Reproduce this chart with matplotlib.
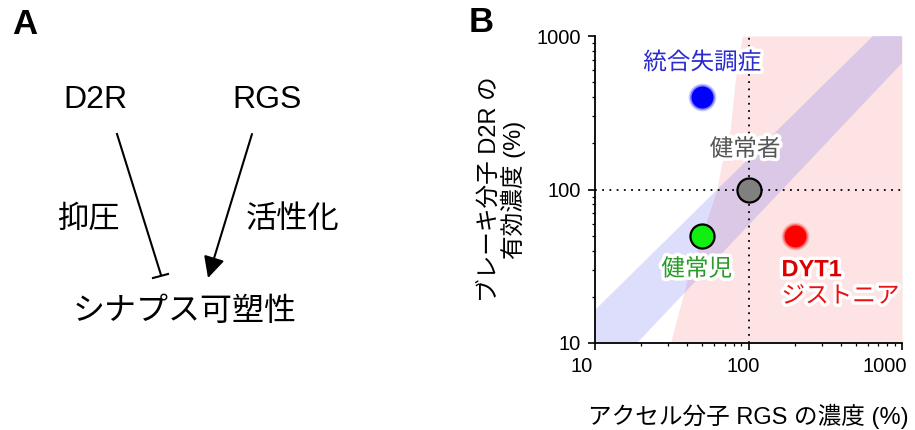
import numpy as np
import matplotlib.pyplot as plt
import matplotlib.patheffects as pe
import matplotlib.transforms as mtransforms
from matplotlib.patches import FancyArrowPatch

plt.rcParams['font.family'] = ['Liberation Sans', 'Noto Sans CJK JP']

# 各群の位置 (RGS %, D2R %)
groups = ['統合失調症', '健常者', '健常児', 'DYT1']
rgs = [50, 100, 50, 200]
d2r = [400, 100, 50, 50]
dot_colors = ['#0000ff', '#808080', '#11ee11', '#ff0000']
dot_edges = [None, 'black', 'black', None]

# ジストニア領域（ピンク）の左境界
pink_rgs = [91, 82, 76, 67, 62, 40, 31]
pink_d2r = [1000, 516, 244, 149, 99, 26, 10]

# 正常バランス帯の上端・下端
band_upper_rgs = [10, 647]
band_upper_d2r = [16.4, 1000]
band_lower_rgs = [18.8, 1000]
band_lower_d2r = [10, 667]

ticks = [10, 100, 1000]

fig = plt.figure(figsize=(9.15, 4.3), dpi=100)

# ---- A: 模式図 ----
axa = fig.add_axes([0, 0, 450 / 915, 1])
axa.set_xlim(0, 450)
axa.set_ylim(430, 0)
axa.axis('off')
axa.text(25, 25, 'A', fontsize=25, fontweight='bold', ha='center', va='center')
axa.text(95, 100, 'D2R', fontsize=23, ha='center', va='center')
axa.text(267, 100, 'RGS', fontsize=23, ha='center', va='center')
axa.text(88, 220, '抑圧', fontsize=22.5, ha='center', va='center')
axa.text(293, 220, '活性化', fontsize=22.5, ha='center', va='center')
axa.text(185, 312, 'シナプス可塑性', fontsize=23, ha='center', va='center')
axa.plot([117, 161], [134, 275], color='black', lw=1.5)
axa.plot([153, 168], [278, 274], color='black', lw=1.5)
axa.add_patch(FancyArrowPatch((252, 134), (208, 278), arrowstyle='-|>',
                              mutation_scale=32, color='black', lw=1.5,
                              shrinkA=0, shrinkB=0))

# ---- B: 2次元プロット ----
ax = fig.add_axes([595 / 915, 87 / 430, 307 / 915, 307 / 430])
ax.set_xscale('log')
ax.set_yscale('log')
ax.set_xlim(10, 1000)
ax.set_ylim(10, 1000)

ax.fill_betweenx(pink_d2r, pink_rgs, 1000, color='#fde3e3', lw=0, zorder=0)
band_x = [10, 10] + [band_upper_rgs[1], 1000] + [1000, band_lower_rgs[0]]
band_y = [10, band_upper_d2r[0]] + [1000, 1000] + [band_lower_d2r[1], 10]
ax.fill(band_x, band_y, color='#6666f2', alpha=0.22, lw=0, zorder=1)

ax.axvline(100, color='black', ls=(0, (1, 3)), lw=1.3, zorder=2)
ax.axhline(100, color='black', ls=(0, (1, 3)), lw=1.3, zorder=2)

for x, y, c, e in zip(rgs, d2r, dot_colors, dot_edges):
    if e is None:
        # ぼかした縁
        ax.scatter(x, y, s=400, color=c, alpha=0.2, lw=0, zorder=3)
        ax.scatter(x, y, s=320, color=c, alpha=0.4, lw=0, zorder=3)
        ax.scatter(x, y, s=250, color=c, lw=0, zorder=4)
    else:
        ax.scatter(x, y, s=300, color=c, edgecolors=e, linewidths=1.6, zorder=4)

halo = [pe.withStroke(linewidth=5, foreground='white')]
ax.text(50, 667, groups[0], color='#2a2ad0', fontsize=17, ha='center', va='center',
        path_effects=halo, zorder=5)
ax.text(95, 181, groups[1], color='#555555', fontsize=17, ha='center', va='center',
        path_effects=halo, zorder=5)
ax.text(46, 30, groups[2], color='#2a9a2a', fontsize=17, ha='center', va='center',
        path_effects=halo, zorder=5)
ax.text(164, 30, groups[3], color='#dd0000', fontsize=17, fontweight='bold',
        ha='left', va='center', path_effects=halo, zorder=5)
ax.text(164, 20, 'ジストニア', color='#e81010', fontsize=17, ha='left', va='center',
        path_effects=halo, zorder=5)

for s in ['top', 'right']:
    ax.spines[s].set_visible(False)
for s in ['left', 'bottom']:
    ax.spines[s].set_linewidth(1.3)
ax.set_xticks(ticks)
ax.set_yticks(ticks)
ax.set_xticklabels([str(t) for t in ticks])
ax.set_yticklabels([str(t) for t in ticks])
ax.tick_params(which='major', length=5, width=1.2, labelsize=14.5, pad=5)
ax.tick_params(which='minor', length=2.5, width=0.9)

# x 目盛ラベルを少し左へずらす
for lab, dx in zip(ax.get_xticklabels(), [-13, -5, -17]):
    lab.set_transform(lab.get_transform() +
                      mtransforms.ScaledTranslation(dx / 100, 0, fig.dpi_scale_trans))

ax.set_xlabel('アクセル分子 RGS の濃度 (%)', fontsize=17, labelpad=20)
ax.set_ylabel('ブレーキ分子 D2R の\n有効濃度 (%)', fontsize=17, labelpad=8,
              linespacing=0.98)
fig.text(481 / 915, 1 - 23 / 430, 'B', fontsize=25, fontweight='bold',
         ha='center', va='center')

fig.savefig('out.png', dpi=100)
